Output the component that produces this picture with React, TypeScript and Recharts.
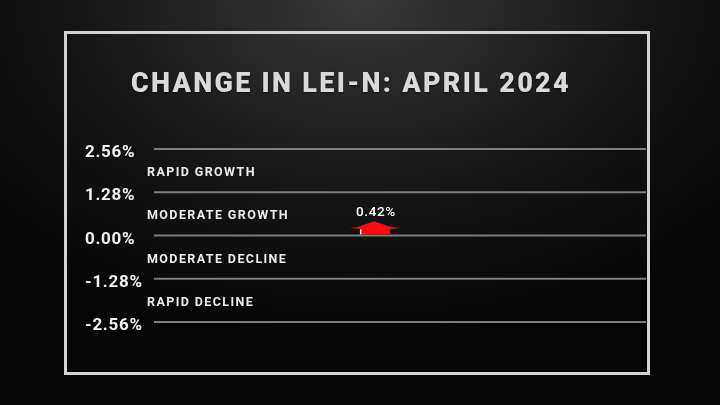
import React from "react";
import {
  ComposedChart,
  XAxis,
  YAxis,
  Scatter,
  ReferenceLine,
  ReferenceArea,
} from "recharts";

// y-axis ticks (percent change)
const yTicks = [2.56, 1.28, 0, -1.28, -2.56];

// band names, top to bottom, between consecutive ticks
const bandLabels = [
  "RAPID GROWTH",
  "MODERATE GROWTH",
  "MODERATE DECLINE",
  "RAPID DECLINE",
];

// the single reading
const months = ["April 2024"];
const monthPos = [44.7];
const values = [0.42];

const title = "CHANGE IN LEI-N: APRIL 2024";

const data = months.map((m, i) => ({ month: m, x: monthPos[i], y: values[i] }));

const fmt = (v: number) => `${v.toFixed(2)}%`;

const YTick = (props: any) => {
  const { y, payload } = props;
  return (
    <text
      x={85}
      y={y + 2}
      dominantBaseline="central"
      fill="#f2f2f2"
      fontFamily="Roboto"
      fontWeight={700}
      fontSize={17}
      letterSpacing={0.7}
    >
      {fmt(payload.value)}
    </text>
  );
};

const BandLabel = (props: any) => {
  const { viewBox, text } = props;
  if (!viewBox) return null;
  return (
    <text
      x={viewBox.x - 7}
      y={viewBox.y + viewBox.height / 2 + 1}
      dominantBaseline="central"
      fill="#ececec"
      fontFamily="Roboto"
      fontWeight={700}
      fontSize={12.5}
      letterSpacing={1.4}
    >
      {text}
    </text>
  );
};

const Arrow = (props: any) => {
  const { cx, cy, payload } = props;
  const pts = [
    [0, 0],
    [18, 6],
    [27, 6.5],
    [16, 8],
    [16, 13],
    [-13, 13],
    [-13, 8],
    [-24, 6.5],
    [-17, 6],
  ]
    .map(([dx, dy]) => `${cx + dx},${cy + dy}`)
    .join(" ");
  return (
    <g>
      <polygon points={pts} fill="#ff0a0a" />
      <rect x={cx - 14} y={cy + 8} width={1.5} height={5} fill="#ffffff" />
      <text
        x={cx + 2}
        y={cy - 5}
        textAnchor="middle"
        fill="#ffffff"
        fontFamily="Roboto"
        fontWeight={500}
        fontSize={13.5}
        letterSpacing={0.6}
      >
        {fmt(payload.y)}
      </text>
    </g>
  );
};

export default function App() {
  return (
    <div
      style={{
        position: "fixed",
        left: 0,
        top: 0,
        width: 720,
        height: 405,
        overflow: "hidden",
        background:
          "radial-gradient(ellipse 70% 85% at 50% 0%, #383838 0%, #161616 55%, #050505 100%)",
      }}
    >
      <div
        style={{
          position: "absolute",
          left: 64,
          top: 31,
          width: 580,
          height: 338,
          border: "3px solid #d2d2d2",
        }}
      />
      <div
        style={{
          position: "absolute",
          left: 0,
          width: 702,
          top: 67,
          textAlign: "center",
          fontFamily: "Roboto",
          fontWeight: 900,
          fontSize: 27,
          letterSpacing: 2.3,
          color: "#dadada",
          textShadow: "0 1px 2px rgba(0,0,0,0.6)",
        }}
      >
        {title}
      </div>
      <ComposedChart
        width={720}
        height={405}
        data={data}
        margin={{ top: 149, right: 74, bottom: 83, left: 84 }}
        style={{ position: "absolute", left: 0, top: 0 }}
      >
        <XAxis type="number" dataKey="x" domain={[0, 100]} hide />
        <YAxis
          type="number"
          dataKey="y"
          width={70}
          domain={[-2.56, 2.56]}
          ticks={yTicks}
          axisLine={false}
          tickLine={false}
          tick={<YTick />}
          interval={0}
        />
        {bandLabels.map((b, i) => (
          <ReferenceArea
            key={b}
            y1={yTicks[i]}
            y2={yTicks[i + 1]}
            fill="none"
            stroke="none"
            ifOverflow="visible"
            label={<BandLabel text={b} />}
          />
        ))}
        {yTicks.map((t) => (
          <ReferenceLine
            key={t}
            y={t}
            stroke="#7e7e7e"
            strokeWidth={2}
            ifOverflow="visible"
          />
        ))}
        <Scatter
          dataKey="y"
          fill="#ff0a0a"
          shape={<Arrow />}
          isAnimationActive={false}
        />
      </ComposedChart>
    </div>
  );
}
